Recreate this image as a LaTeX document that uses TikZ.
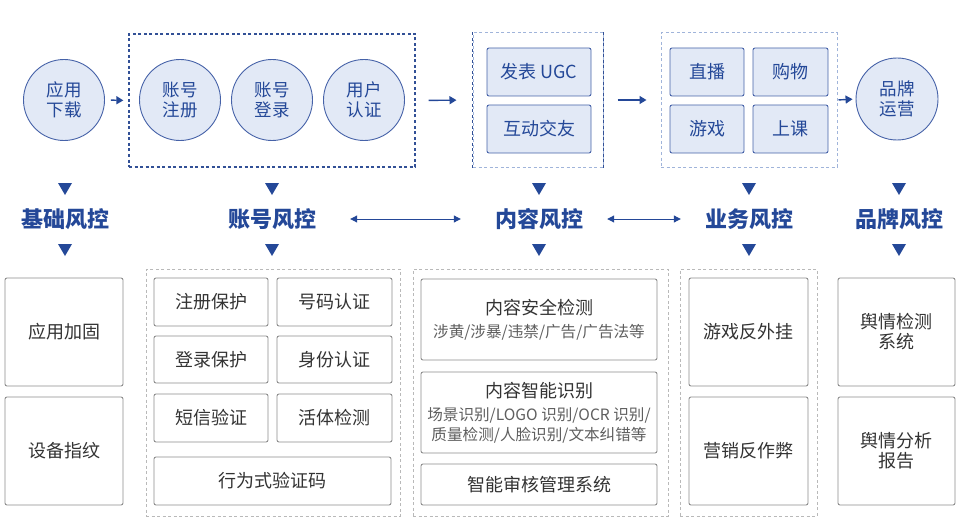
\documentclass[tikz,border=0pt]{standalone}
\usepackage{fontspec}
\setmainfont{Noto Sans CJK SC}
\usetikzlibrary{arrows.meta}

\definecolor{navy}{RGB}{36,72,152}
\definecolor{ringblue}{RGB}{70,98,168}
\definecolor{paleblue}{RGB}{226,233,246}
\definecolor{dashdark}{RGB}{50,80,150}
\definecolor{dashlight}{RGB}{160,180,218}
\definecolor{boxgray}{RGB}{140,140,140}
\definecolor{dashgray}{RGB}{185,185,185}
\definecolor{inkgray}{RGB}{51,51,51}
\definecolor{subgray}{RGB}{95,95,95}

\newcommand{\subtxt}{\fontsize{15.6}{19}\selectfont\color{subgray}}

\begin{document}
\begin{tikzpicture}[x=1pt, y=-1pt,
    >={Triangle[length=7pt, width=8pt]},
    stage/.style={circle, draw=ringblue, fill=paleblue, line width=0.9pt, minimum size=81pt,
        inner sep=0pt, align=center, text=navy, font=\fontsize{17.5}{20}\selectfont},
    stagebox/.style={rectangle, rounded corners=2pt, draw=ringblue, fill=paleblue, line width=0.9pt,
        inner sep=0pt, text=navy, font=\fontsize{18}{20}\selectfont},
    grp/.style={rectangle, line width=1pt, dash pattern=on 3pt off 2.5pt, inner sep=0pt},
    heading/.style={inner sep=0pt, text=navy, font=\fontsize{22}{24}\selectfont\bfseries},
    item/.style={rectangle, rounded corners=2pt, draw=boxgray, fill=white, line width=0.9pt,
        inner sep=0pt, align=center, text=inkgray, font=\fontsize{18}{20}\selectfont},
    flow/.style={->, navy, line width=1.4pt},
    link/.style={<->, navy, line width=1pt, >={Triangle[length=7pt, width=7pt]}}]
    \useasboundingbox (0,0) rectangle (971,524);

    % top row
    \node[stage] (app) at (64,100) {应用\\下载};
    \node[grp, draw=dashdark, line width=1.3pt, minimum width=286pt, minimum height=133pt] (grpZH) at (272,100.5) {};
    \node[stage] (reg) at (180,100) {账号\\注册};
    \node[stage] (login) at (272,100) {账号\\登录};
    \node[stage] (auth) at (364,100) {用户\\认证};
    \node[grp, draw=dashlight, minimum width=130pt, minimum height=134pt] (grpNR) at (538,100) {};
    \draw[grp, dashdark, line width=1.3pt] (grpNR.north west) -- (grpNR.south west);
    \draw[grp, dashdark, line width=1.3pt] (grpNR.north east) -- (grpNR.south east);
    \node[stagebox, minimum width=104pt, minimum height=48pt] (ugc) at (539,72) {发表 UGC};
    \node[stagebox, minimum width=104pt, minimum height=48pt] (social) at (539,129) {互动交友};
    \node[grp, draw=dashlight, minimum width=176pt, minimum height=134pt] (grpYW) at (749,100) {};
    \node[stagebox, minimum width=74pt, minimum height=48pt] (live) at (707,72) {直播};
    \node[stagebox, minimum width=75pt, minimum height=48pt] (shop) at (790.5,72) {购物};
    \node[stagebox, minimum width=74pt, minimum height=48pt] (game) at (707,129) {游戏};
    \node[stagebox, minimum width=75pt, minimum height=48pt] (course) at (790.5,129) {上课};
    \node[stage, minimum size=82pt] (brand) at (897,99) {品牌\\运营};

    \draw[flow, shorten <=6pt, shorten >=5pt] (app.east) -- (grpZH.west);
    \draw[flow, shorten <=13pt, shorten >=16pt] (grpZH.east) -- (grpNR.west);
    \draw[flow, shorten <=14pt, shorten >=14pt] (grpNR.east) -- (grpYW.west);
    \draw[flow, shorten <=1pt, shorten >=3pt] (grpYW.east) -- (brand.west);

    % headings
    \node[heading] (hJC) at (65,219) {基础风控};
    \node[heading] (hZH) at (272,219) {账号风控};
    \node[heading] (hNR) at (539,219) {内容风控};
    \node[heading] (hYW) at (749,219) {业务风控};
    \node[heading] (hPP) at (899,219) {品牌风控};
    \foreach \h in {hJC,hZH,hNR,hYW,hPP}{
        \fill[navy] ([shift={(-7pt,36pt)}]\h.center) -- ([shift={(7pt,36pt)}]\h.center)
            -- ([shift={(0pt,24pt)}]\h.center) -- cycle;
        \fill[navy] ([shift={(-7pt,-25pt)}]\h.center) -- ([shift={(7pt,-25pt)}]\h.center)
            -- ([shift={(0pt,-37pt)}]\h.center) -- cycle;
    }
    \draw[link, shorten <=34pt, shorten >=34pt] (hZH.east) -- (hNR.west);
    \draw[link, shorten <=24pt, shorten >=24pt] (hNR.east) -- (hYW.west);

    % bottom row
    \node[item, minimum width=118pt, minimum height=108pt] (harden) at (64,332) {应用加固};
    \node[item, minimum width=118pt, minimum height=108pt] (finger) at (64,451) {设备指纹};

    \node[grp, draw=dashgray, minimum width=254pt, minimum height=247pt] (grpZHb) at (273,392.5) {};
    \node[item, minimum width=114pt, minimum height=48pt] (regp) at (211,302) {注册保护};
    \node[item, minimum width=115pt, minimum height=48pt] (phone) at (334.5,302) {号码认证};
    \node[item, minimum width=114pt, minimum height=47pt] (loginp) at (211,359.5) {登录保护};
    \node[item, minimum width=115pt, minimum height=47pt] (idcard) at (334.5,359.5) {身份认证};
    \node[item, minimum width=114pt, minimum height=48pt] (sms) at (211,418) {短信验证};
    \node[item, minimum width=115pt, minimum height=48pt] (live2) at (334.5,418) {活体检测};
    \node[item, minimum width=237pt, minimum height=48pt] (captcha) at (272.5,481) {行为式验证码};

    \node[grp, draw=dashgray, minimum width=255pt, minimum height=247pt] (grpNRb) at (540.5,392.5) {};
    \node[item, minimum width=236pt, minimum height=81pt] (safe) at (539,319.5)
        {内容安全检测\\[3pt]\subtxt 涉黄/涉暴/违禁/广告/广告法等};
    \node[item, minimum width=236pt, minimum height=81pt] (smart) at (539,412.5)
        {内容智能识别\\[3pt]\subtxt 场景识别/LOGO 识别/OCR 识别/\\\subtxt 质量检测/人脸识别/文本纠错等};
    \node[item, minimum width=236pt, minimum height=41pt] (audit) at (539,484.5) {智能审核管理系统};

    \node[grp, draw=dashgray, minimum width=137pt, minimum height=247pt] (grpYWb) at (748.5,392.5) {};
    \node[item, minimum width=119pt, minimum height=108pt] (cheat) at (748.5,332) {游戏反外挂};
    \node[item, minimum width=119pt, minimum height=108pt] (fraud) at (748.5,451) {营销反作弊};

    \node[item, minimum width=117pt, minimum height=108pt] (opinion) at (896.5,332) {舆情检测\\系统};
    \node[item, minimum width=117pt, minimum height=108pt] (report) at (896.5,451) {舆情分析\\报告};
\end{tikzpicture}
\end{document}
